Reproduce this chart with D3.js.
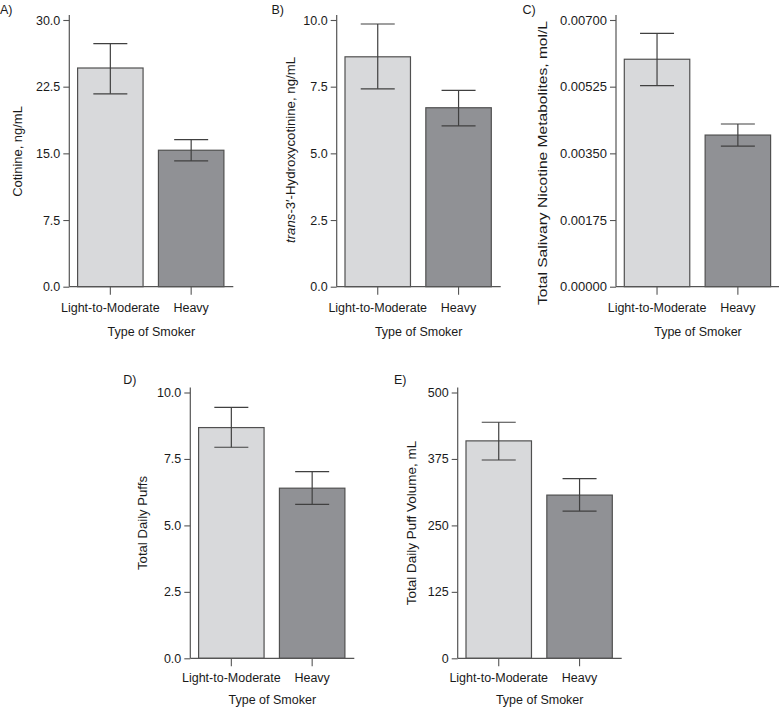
<!DOCTYPE html>
<html>
<head>
<meta charset="utf-8">
<script src="https://cdn.jsdelivr.net/npm/d3@7"></script>
<style>
  html, body { margin: 0; padding: 0; background: #fff; }
  svg { display: block; }
  text { font-family: "Liberation Sans", Arial, Helvetica, sans-serif; fill: #1a1a1a; }
</style>
</head>
<body>
<svg id="chart" width="779" height="707"></svg>
<script>
// ---------- DATA ----------
const categories = ["Light-to-Moderate", "Heavy"];

const cotinineMean  = [24.6, 15.35];
const cotinineUpper = [27.35, 16.55];
const cotinineLower = [21.7, 14.15];
const cotinineTicks = [0, 7.5, 15, 22.5, 30];

const hydroxyMean  = [8.62, 6.71];
const hydroxyUpper = [9.85, 7.36];
const hydroxyLower = [7.42, 6.03];
const hydroxyTicks = [0, 2.5, 5, 7.5, 10];

const metabMean  = [0.00597, 0.00398];
const metabUpper = [0.00665, 0.00427];
const metabLower = [0.00528, 0.00369];
const metabTicks = [0, 0.00175, 0.0035, 0.00525, 0.007];

const puffsMean  = [8.68, 6.40];
const puffsUpper = [9.44, 7.02];
const puffsLower = [7.94, 5.79];
const puffsTicks = [0, 2.5, 5, 7.5, 10];

const volumeMean  = [409, 307];
const volumeUpper = [444, 338];
const volumeLower = [373, 277];
const volumeTicks = [0, 125, 250, 375, 500];

const panelLetters = ["A)", "B)", "C)", "D)", "E)"];
const xAxisTitle = "Type of Smoker";

// ---------- LAYOUT ----------
const barColors = ["#d8d9db", "#909195"];
const panels = [
  { letter: panelLetters[0], mean: cotinineMean, upper: cotinineUpper, lower: cotinineLower, ticks: cotinineTicks, fmt: ".1f",
    ytitle: [{t: "Cotinine, ng/mL"}], titleLen: 90.7, tickFS: 12.5,
    axisX: 69.3, top: 20, zero: 286.7, labelX: 17.7, labelY: 151.5, letterX: 0, letterY: 13.5, tickLabY: 25, titleY: 49 },
  { letter: panelLetters[1], mean: hydroxyMean, upper: hydroxyUpper, lower: hydroxyLower, ticks: hydroxyTicks, fmt: ".1f",
    ytitle: [{t: "trans", i: true}, {t: "-3\u2032-Hydroxycotinine, ng/mL"}], titleLen: 186, tickFS: 12.5,
    axisX: 336.7, top: 20, zero: 286.7, labelX: 290.5, labelY: 150, letterX: 271.5, letterY: 13.5, tickLabY: 25, titleY: 49 },
  { letter: panelLetters[2], mean: metabMean, upper: metabUpper, lower: metabLower, ticks: metabTicks, fmt: ".5f",
    ytitle: [{t: "Total Salivary Nicotine Metabolites, mol/L"}], titleLen: 284, tickFS: 13,
    axisX: 616, top: 20, zero: 286.7, labelX: 542, labelY: 163, letterX: 522.5, letterY: 13.5, tickLabY: 25, titleY: 49 },
  { letter: panelLetters[3], mean: puffsMean, upper: puffsUpper, lower: puffsLower, ticks: puffsTicks, fmt: ".1f",
    ytitle: [{t: "Total Daily Puffs"}], titleLen: 94, tickFS: 12.5,
    axisX: 190.3, top: 392.5, zero: 658.3, labelX: 142.5, labelY: 523, letterX: 123.3, letterY: 383.5, tickLabY: 23.5, titleY: 46 },
  { letter: panelLetters[4], mean: volumeMean, upper: volumeUpper, lower: volumeLower, ticks: volumeTicks, fmt: "d",
    ytitle: [{t: "Total Daily Puff Volume, mL"}], titleLen: 164.3, tickFS: 12.5,
    axisX: 457.7, top: 392.5, zero: 658.3, labelX: 411.5, labelY: 523, letterX: 394, letterY: 383.5, tickLabY: 23.5, titleY: 46 }
];

const svg = d3.select("#chart");
const FS = 12.5;
const axisColor = "#555";

panels.forEach(p => {
  const g = svg.append("g");
  const yMax = p.ticks[p.ticks.length - 1];
  const y = d3.scaleLinear().domain([0, yMax]).range([p.zero, p.top]);
  const x = d3.scaleBand().domain(categories)
      .range([p.axisX + 8.3, p.axisX + 154.6]).paddingInner(0.19).paddingOuter(0);
  const axisEnd = p.axisX + 164;

  // bars
  g.selectAll("rect.bar").data(categories).enter().append("rect")
    .attr("x", d => x(d))
    .attr("y", (d, i) => y(p.mean[i]))
    .attr("width", x.bandwidth())
    .attr("height", (d, i) => y(0) - y(p.mean[i]))
    .attr("fill", (d, i) => barColors[i])
    .attr("stroke", "#505050").attr("stroke-width", 1.2);

  // error bars
  const cap = 17;
  categories.forEach((c, i) => {
    const cx = x(c) + x.bandwidth() / 2;
    g.append("line").attr("x1", cx).attr("x2", cx)
      .attr("y1", y(p.upper[i])).attr("y2", y(p.lower[i]))
      .attr("stroke", "#404040").attr("stroke-width", 1.2);
    [p.upper[i], p.lower[i]].forEach(v => {
      g.append("line").attr("x1", cx - cap).attr("x2", cx + cap)
        .attr("y1", y(v)).attr("y2", y(v))
        .attr("stroke", "#404040").attr("stroke-width", 1.2);
    });
  });

  // y axis
  const yAxis = d3.axisLeft(y).tickValues(p.ticks).tickSize(6).tickPadding(3)
    .tickFormat(d3.format(p.fmt));
  const ya = g.append("g").attr("transform", `translate(${p.axisX},0)`).call(yAxis);
  ya.select(".domain").remove();
  ya.selectAll(".tick line").attr("stroke", axisColor).attr("stroke-width", 1.1);
  ya.selectAll(".tick text").attr("font-size", p.tickFS).attr("fill", "#1a1a1a")
    .attr("font-family", '"Liberation Sans", Arial, sans-serif');
  g.append("line").attr("x1", p.axisX).attr("x2", p.axisX)
    .attr("y1", p.top - 5).attr("y2", p.zero)
    .attr("stroke", axisColor).attr("stroke-width", 1.2);

  // x axis
  const xAxis = d3.axisBottom(x).tickSize(8).tickPadding(3);
  const xa = g.append("g").attr("transform", `translate(0,${p.zero})`).call(xAxis);
  xa.select(".domain").remove();
  xa.selectAll(".tick line").attr("stroke", axisColor).attr("stroke-width", 1.1);
  xa.selectAll(".tick text").remove();
  categories.forEach(c => {
    g.append("text").attr("x", x(c) + x.bandwidth() / 2).attr("y", p.zero + p.tickLabY)
      .attr("text-anchor", "middle").attr("font-size", FS).text(c);
  });
  g.append("line").attr("x1", p.axisX).attr("x2", axisEnd)
    .attr("y1", p.zero).attr("y2", p.zero)
    .attr("stroke", axisColor).attr("stroke-width", 1.2);

  // x title
  g.append("text").attr("x", (p.axisX + axisEnd) / 2).attr("y", p.zero + p.titleY)
    .attr("text-anchor", "middle").attr("font-size", FS).text(xAxisTitle);

  // y title
  const yt = g.append("text")
    .attr("transform", `translate(${p.labelX},${p.labelY}) rotate(-90)`)
    .attr("text-anchor", "middle").attr("dy", "0.35em").attr("font-size", 13)
    .attr("textLength", p.titleLen).attr("lengthAdjust", "spacingAndGlyphs");
  p.ytitle.forEach(s => {
    yt.append("tspan").attr("font-style", s.i ? "italic" : "normal").text(s.t);
  });

  // panel letter
  g.append("text").attr("x", p.letterX).attr("y", p.letterY)
    .attr("font-size", FS).text(p.letter);
});
</script>
</body>
</html>
